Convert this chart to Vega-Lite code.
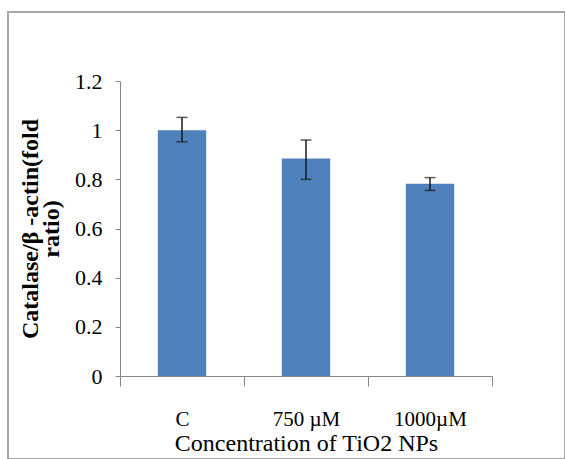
{
  "$schema": "https://vega.github.io/schema/vega-lite/v6.json",
  "autosize": "none",
  "width": 557,
  "height": 447,
  "padding": {"left": 8, "top": 12, "right": 0, "bottom": 0},
  "background": "white",
  "config": {
    "view": {"stroke": "#a6a6a6", "strokeWidth": 2},
    "font": "Liberation Serif"
  },
  "data": {
    "values": [
      {"group": "C", "value": 1.0, "lo": 0.953, "hi": 1.052},
      {"group": "750 µM", "value": 0.885, "lo": 0.8, "hi": 0.96},
      {"group": "1000µM", "value": 0.782, "lo": 0.755, "hi": 0.807}
    ]
  },
  "encoding": {
    "x": {
      "field": "group",
      "type": "nominal",
      "sort": null,
      "scale": {"range": [112, 484], "paddingInner": 0, "paddingOuter": 0},
      "axis": {
        "title": "Concentration of TiO2 NPs",
        "titleFont": "Liberation Serif",
        "titleFontSize": 24,
        "titleFontWeight": "normal",
        "titleColor": "black",
        "titlePadding": 2,
        "labelFont": "Liberation Serif",
        "labelFontSize": 21,
        "labelColor": "black",
        "labelAngle": 0,
        "labelPadding": 22,
        "tickBand": "extent",
        "tickSize": 10,
        "tickColor": "#868686",
        "domainColor": "#868686",
        "offset": -83,
        "grid": false
      }
    }
  },
  "layer": [
    {
      "mark": {"type": "bar", "color": "#4F81BD", "width": {"band": 0.39}},
      "encoding": {
        "y": {
          "field": "value",
          "type": "quantitative",
          "title": ["Catalase/β -actin(fold", "ratio)"],
          "scale": {"domain": [0, 1.2], "range": [364, 69], "nice": false},
          "axis": {
            "titleFont": "Liberation Serif",
            "titleFontSize": 24,
            "titleFontWeight": "bold",
            "titleColor": "black",
            "titleLineHeight": 21,
            "titlePadding": 11,
            "labelFont": "Liberation Serif",
            "labelFontSize": 22,
            "labelColor": "black",
            "labelPadding": 13,
            "values": [0, 0.2, 0.4, 0.6, 0.8, 1, 1.2],
            "format": "~g",
            "tickSize": 5,
            "tickColor": "#868686",
            "domainColor": "#868686",
            "offset": -112,
            "grid": false
          }
        }
      }
    },
    {
      "mark": {"type": "errorbar", "ticks": {"size": 11, "color": "#1a1a1a", "thickness": 1.5}, "rule": {"color": "#1a1a1a", "strokeWidth": 1.5}},
      "encoding": {
        "y": {"field": "lo", "type": "quantitative", "title": ["Catalase/β -actin(fold", "ratio)"]},
        "y2": {"field": "hi"}
      }
    }
  ]
}
